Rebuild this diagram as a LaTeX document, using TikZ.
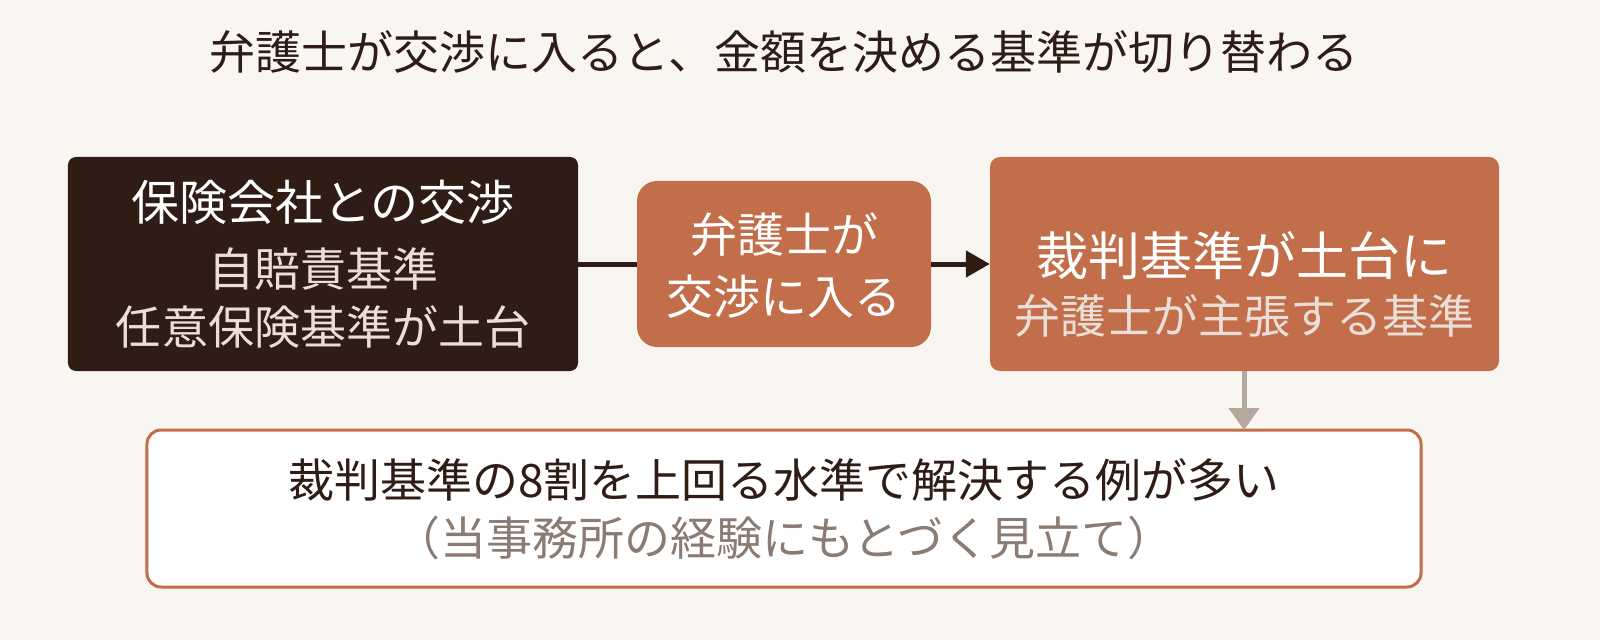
\documentclass[tikz,border=0pt]{standalone}
\usepackage{fontspec}
\setmainfont{Noto Sans CJK JP}
\usetikzlibrary{arrows.meta}
\definecolor{bg}{HTML}{F9F6F1}
\definecolor{dark}{HTML}{2E1C15}
\definecolor{orn}{HTML}{C36E4A}
\definecolor{gr}{HTML}{B5A89E}
\definecolor{lt}{HTML}{EADFD8}
\definecolor{sub}{HTML}{8A7B73}
\begin{document}
\begin{tikzpicture}[x=1bp,y=-1bp,
  box/.style={draw=none,inner sep=0,align=center},
  f/.style={font=\fontsize{#1bp}{#1bp}\selectfont}]
\useasboundingbox[fill=bg] (0,0) rectangle (1600,640);
\node[f=46,text=dark] (t) at (784,52) {弁護士が交渉に入ると、金額を決める基準が切り替わる};
\node[box,fill=dark,rounded corners=8bp,minimum width=510bp,minimum height=214bp] (a) at (323,264) {};
\node[f=48,text=white] at (323,202) {保険会社との交渉};
\node[text=lt,align=center,font=\fontsize{46bp}{58bp}\selectfont] at (323,298) {自賠責基準\\任意保険基準が土台};
\node[box,fill=orn,rounded corners=20bp,minimum width=294bp,minimum height=166bp] (b) at (784,264) {};
\node[text=white,align=center,font=\fontsize{47bp}{62bp}\selectfont] at (784,266) {弁護士が\\交渉に入る};
\node[box,fill=orn,rounded corners=10bp,minimum width=509bp,minimum height=214bp] (c) at (1244.5,264) {};
\node[f=52,text=white] at (1244.5,256) {裁判基準が土台に};
\node[f=46,text=lt] at (1244.5,316) {弁護士が主張する基準};
\node[box,fill=white,draw=orn,line width=3bp,rounded corners=14bp,minimum width=1274bp,minimum height=157bp] (d) at (784,508.5) {};
\node[f=46,text=dark] at (784,480) {裁判基準の8割を上回る水準で解決する例が多い};
\node[f=46,text=sub] at (784,538) {（当事務所の経験にもとづく見立て）};
\draw[dark,line width=5bp] (a.east) -- (b.west);
\draw[dark,line width=5bp,-{Triangle[length=24bp,width=26bp]}] (b.east) -- (c.west);
\draw[gr,line width=5bp,-{Triangle[length=22bp,width=30bp]}] (1244,371) -- (1244,430);
\end{tikzpicture}
\end{document}
